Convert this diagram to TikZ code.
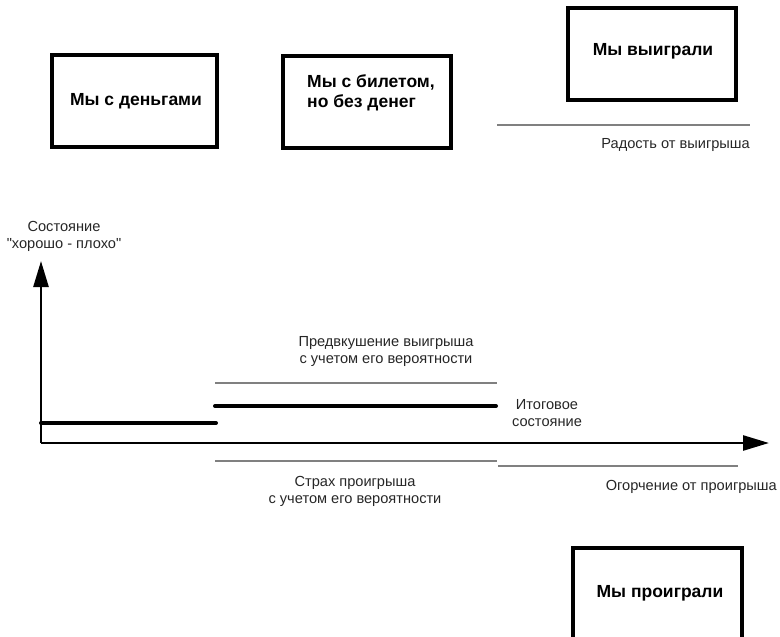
\documentclass[tikz,border=0pt]{standalone}
\usepackage{fontspec}
\setmainfont{Liberation Sans}[Ligatures=TeXOff]
\usetikzlibrary{arrows.meta}

\tikzset{
  statebox/.style={draw=black, line width=4pt, fill=white,
    minimum width=165pt, minimum height=92pt, inner sep=0pt},
  boxtext/.style={font=\bfseries\fontsize{17.5}{20.5}\selectfont, inner sep=0pt},
  note/.style={font=\fontsize{14.6}{17}\selectfont, text=black!85, inner sep=0pt, align=center},
  axis/.style={line width=2.6pt, -{Triangle[length=26pt,width=15pt]}},
  level/.style={line width=4pt, line cap=round},
  bound/.style={line width=1.2pt, draw=black!50},
}

\begin{document}
\begin{tikzpicture}[x=1pt, y=-1pt]
  \useasboundingbox (0,0) rectangle (780,637);

  % states along the way
  \node[statebox] (money) at (134.5,100.5) {};
  \node[boxtext] (moneytext) at (136,101) {Мы с деньгами};
  \node[statebox, minimum width=168pt] (ticket) at (367,102) {};
  \node[boxtext, align=left] (tickettext) at (371,93) {Мы с билетом,\\но без денег};
  \node[statebox, minimum width=168pt] (won) at (652,54) {};
  \node[boxtext] (wontext) at (653,51) {Мы выиграли};
  \node[statebox, minimum width=169pt] (lost) at (657.5,594) {};
  \node[boxtext] (losttext) at (660,593) {Мы проиграли};

  % axes
  \coordinate (origin) at (41,443);
  \coordinate (ytop) at (41,261);
  \coordinate (xend) at (769,443);
  \draw[axis] (origin) -- (ytop);
  \draw[axis] (origin) -- (xend);
  \node[note] (ylabel) at (64,236) {Состояние\\"хорошо - плохо"};

  % state levels
  \coordinate (l0a) at (41,423);
  \coordinate (l0b) at (216,423);
  \coordinate (l1a) at (215,406);
  \coordinate (l1b) at (496,406);
  \draw[level] (l0a) -- (l0b);
  \draw[level] (l1a) -- (l1b);

  % bounds of expectation
  \coordinate (upa) at (215,383);
  \coordinate (upb) at (497,383);
  \coordinate (dna) at (215,461);
  \coordinate (dnb) at (497,461);
  \coordinate (wina) at (497,125);
  \coordinate (winb) at (750,125);
  \coordinate (lossa) at (498,466);
  \coordinate (lossb) at (738,466);
  \draw[bound] (upa) -- (upb);
  \draw[bound] (dna) -- (dnb);
  \draw[bound] (wina) -- (winb);
  \draw[bound] (lossa) -- (lossb);

  % captions
  \node[note] (hope) at (386,351) {Предвкушение выигрыша\\с учетом его вероятности};
  \node[note] (fear) at (355,491) {Страх проигрыша\\с учетом его вероятности};
  \node[note] (final) at (547,413) {Итоговое\\состояние};
  \node[note, anchor=east] (joy) at (750,145) {Радость от выигрыша};
  \node[note, anchor=east] (grief) at (777,487) {Огорчение от проигрыша};
\end{tikzpicture}
\end{document}
